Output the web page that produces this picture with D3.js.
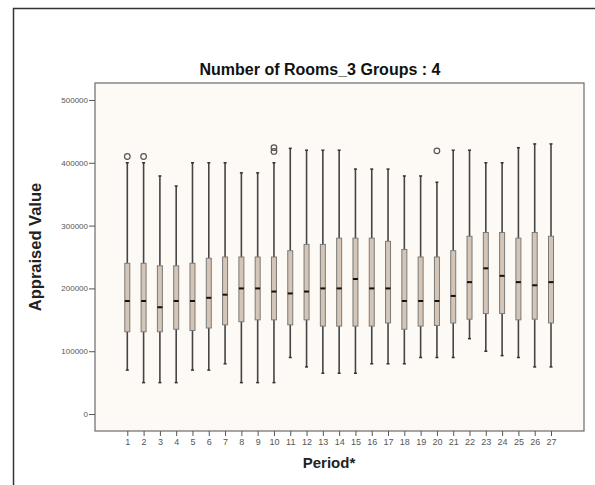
<!DOCTYPE html>
<html><head><meta charset="utf-8">
<script src="https://cdn.jsdelivr.net/npm/d3@7"></script>
<style>
html,body{margin:0;padding:0;background:#fff;}
svg{display:block;}
</style></head>
<body>
<svg id="chart" width="595" height="485"></svg>
<script>
const periods = d3.range(1, 28).map(String);
const whiskerLow  = [70000,50000,50000,50000,70000,70000,80000,50000,50000,50000,90000,75000,65000,65000,65000,80000,80000,80000,90000,90000,90000,120000,100000,93000,90000,75000,75000];
const q1Values    = [131000,131000,131000,135000,133000,137000,142000,147000,150000,150000,142000,150000,140000,140000,140000,140000,145000,135000,140000,141000,145000,151000,160000,160000,150000,151000,145000];
const medians     = [180000,180000,170000,180000,180000,185000,190000,200000,200000,195000,192000,195000,200000,200000,215000,200000,200000,180000,180000,180000,188000,210000,232000,220000,210000,205000,210000];
const q3Values    = [240000,240000,236000,236000,240000,248000,250000,250000,250000,250000,260000,270000,270000,280000,280000,280000,275000,262000,250000,250000,260000,283000,289000,289000,280000,289000,283000];
const whiskerHigh = [400000,400000,379000,363000,400000,400000,400000,384000,384000,400000,423000,420000,420000,420000,390000,390000,390000,379000,379000,369000,420000,420000,400000,400000,424000,430000,430000];
const outlierPeriods = ["1","2","10","10","20"];
const outlierValues  = [410000,410000,418000,424000,419000];
const yTicks = [0,100000,200000,300000,400000,500000];
const titleText = "Number of Rooms_3 Groups : 4";
const xTitle = "Period*";
const yTitle = "Appraised Value";

const svg = d3.select("#chart");
const plot = {left:95, right:584, top:83, bottom:431};

// outer frame
svg.append("path").attr("d", "M13.5,485 V8.5 H595").attr("fill","none").attr("stroke","#333").attr("stroke-width",1.5);

const x = d3.scalePoint().domain(periods).range([127.3, 551]);
const y = d3.scaleLinear().domain([-27000, 527000]).range([plot.bottom, plot.top]);

// plot background
svg.append("rect").attr("x",plot.left).attr("y",plot.top)
  .attr("width",plot.right-plot.left).attr("height",plot.bottom-plot.top)
  .attr("fill","#fdf9f5").attr("stroke","#6b6b6b").attr("stroke-width",1.2);

// y axis
const yAxis = svg.append("g").attr("transform",`translate(${plot.left},0)`)
  .call(d3.axisLeft(y).tickValues(yTicks).tickFormat(d3.format("d")).tickSize(6).tickPadding(1));
yAxis.select(".domain").remove();
yAxis.selectAll("line").attr("stroke","#555");
yAxis.selectAll("text").attr("font-family","Arial, 'Liberation Sans', sans-serif").attr("font-size","8px").attr("fill","#555");

// x axis
const xAxis = svg.append("g").attr("transform",`translate(0,${plot.bottom})`)
  .call(d3.axisBottom(x).tickSize(5).tickPadding(3));
xAxis.select(".domain").remove();
xAxis.selectAll("line").attr("stroke","#555");
xAxis.selectAll("text").attr("font-family","Arial, 'Liberation Sans', sans-serif").attr("font-size","9px").attr("fill","#555");

const boxes = periods.map((p,i)=>({p, lo:whiskerLow[i], q1:q1Values[i], med:medians[i], q3:q3Values[i], hi:whiskerHigh[i]}));
const bw = 5;
const g = svg.append("g");
// whiskers
g.selectAll("line.wl").data(boxes).join("line")
  .attr("x1",d=>x(d.p)).attr("x2",d=>x(d.p)).attr("y1",d=>y(d.q1)).attr("y2",d=>y(d.lo))
  .attr("stroke","#444").attr("stroke-width",1.6);
g.selectAll("line.wh").data(boxes).join("line")
  .attr("x1",d=>x(d.p)).attr("x2",d=>x(d.p)).attr("y1",d=>y(d.q3)).attr("y2",d=>y(d.hi))
  .attr("stroke","#444").attr("stroke-width",1.6);
// caps
[["lo"],["hi"]].forEach(([k])=>{
  g.append("g").selectAll("line").data(boxes).join("line")
    .attr("x1",d=>x(d.p)-1.5).attr("x2",d=>x(d.p)+1.5).attr("y1",d=>y(d[k])).attr("y2",d=>y(d[k]))
    .attr("stroke","#333").attr("stroke-width",1.5);
});
// boxes
g.append("g").selectAll("rect").data(boxes).join("rect")
  .attr("x",d=>x(d.p)-bw/2).attr("width",bw)
  .attr("y",d=>y(d.q3)).attr("height",d=>y(d.q1)-y(d.q3))
  .attr("fill","#d4c5b6").attr("stroke","#7a7a7a").attr("stroke-width",1);
// medians
g.append("g").selectAll("line").data(boxes).join("line")
  .attr("x1",d=>x(d.p)-bw/2).attr("x2",d=>x(d.p)+bw/2).attr("y1",d=>y(d.med)).attr("y2",d=>y(d.med))
  .attr("stroke","#111").attr("stroke-width",2);
// outliers
g.append("g").selectAll("circle").data(outlierValues.map((v,i)=>({p:outlierPeriods[i], v}))).join("circle")
  .attr("cx",d=>x(d.p)).attr("cy",d=>y(d.v)).attr("r",2.8)
  .attr("fill","none").attr("stroke","#555").attr("stroke-width",1.2);

// titles
const font = "Arial, 'Liberation Sans', sans-serif";
svg.append("text").attr("x",320).attr("y",75).attr("text-anchor","middle")
  .attr("font-family",font).attr("font-weight","bold").attr("font-size","16px").attr("fill","#111").text(titleText);
svg.append("text").attr("x",329).attr("y",468).attr("text-anchor","middle")
  .attr("font-family",font).attr("font-weight","bold").attr("font-size","15px").attr("fill","#222").text(xTitle);
svg.append("text").attr("transform","translate(41,247) rotate(-90)").attr("text-anchor","middle")
  .attr("font-family",font).attr("font-weight","bold").attr("font-size","16.5px").attr("fill","#222").text(yTitle);
</script>
</body></html>
